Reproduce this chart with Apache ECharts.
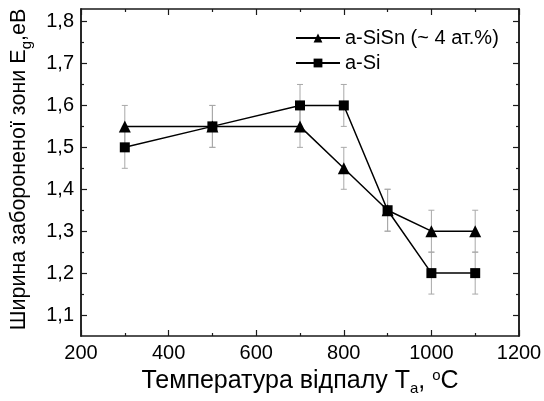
<!DOCTYPE html>
<html>
<head>
<meta charset="utf-8">
<script src="https://cdn.jsdelivr.net/npm/echarts@6/dist/echarts.min.js"></script>
<style>
  html, body { margin: 0; padding: 0; background: #fff; }
  #chart { width: 544px; height: 401px; }
</style>
</head>
<body>
<div id="chart"></div>
<script>
// annealing temperature, C
const temps = [300, 500, 700, 800, 900, 1000, 1100]
// band gap, eV
const sisnGap = [1.55, 1.55, 1.55, 1.45, 1.35, 1.30, 1.30]
const siGap = [1.50, 1.55, 1.60, 1.60, 1.35, 1.20, 1.20]
const gapErr = [0.05, 0.05, 0.05, 0.05, 0.05, 0.05, 0.05]

// y ticks (labelled) and the small ones in between
const yTicks = [1.1, 1.2, 1.3, 1.4, 1.5, 1.6, 1.7, 1.8]
const yMinorTicks = [1.15, 1.25, 1.35, 1.45, 1.55, 1.65, 1.75]

const seriesNames = ['a-SiSn (~ 4 ат.%)', 'a-Si']

const font = 'Liberation Sans, Arial, sans-serif'
const axisColor = '#1a1a1a'

function errData(vals) {
  return temps.map((t, i) => [t, vals[i] - gapErr[i], vals[i] + gapErr[i]])
}

function renderErr(params, api) {
  const x = api.value(0)
  const lo = api.coord([x, api.value(1)])
  const hi = api.coord([x, api.value(2)])
  const w = 3
  const style = { stroke: '#a8a8a8', lineWidth: 1 }
  return {
    type: 'group',
    children: [
      { type: 'line', shape: { x1: lo[0], y1: lo[1], x2: hi[0], y2: hi[1] }, style: style },
      { type: 'line', shape: { x1: lo[0] - w, y1: lo[1], x2: lo[0] + w, y2: lo[1] }, style: style },
      { type: 'line', shape: { x1: hi[0] - w, y1: hi[1], x2: hi[0] + w, y2: hi[1] }, style: style }
    ]
  }
}

const xBase = {
  type: 'value',
  min: 200,
  max: 1200,
  interval: 200,
  axisLine: { show: true, onZero: false, lineStyle: { color: axisColor, width: 1.5 } },
  axisTick: { show: true, inside: true, length: 6, lineStyle: { color: axisColor, width: 1.2 } },
  minorTick: { show: true, splitNumber: 2, length: 3, lineStyle: { color: axisColor, width: 1.2 } },
  splitLine: { show: false },
  minorSplitLine: { show: false }
}

function yAxisDef(position, ticks, len, withLabels) {
  return {
    type: 'value',
    position: position,
    min: 1.05,
    max: 1.83,
    axisLine: { show: true, onZero: false, lineStyle: { color: axisColor, width: 1.5 } },
    axisTick: { show: true, inside: true, length: len, customValues: ticks, lineStyle: { color: axisColor, width: 1.2 } },
    axisLabel: withLabels
      ? {
          show: true,
          margin: 7,
          fontFamily: font,
          fontSize: 20,
          color: '#000',
          customValues: ticks,
          formatter: v => v.toFixed(1).replace('.', ',')
        }
      : { show: false },
    splitLine: { show: false }
  }
}

const richName = {
  sub: { fontSize: 15, fontFamily: font, color: '#000', padding: [14, 0, 0, 0] },
  sup: { fontSize: 15, fontFamily: font, color: '#000', padding: [0, 0, 12, 0] }
}

const chart = echarts.init(document.getElementById('chart'), null, { renderer: 'canvas' })

const yMain = yAxisDef('left', yTicks, 6, true)
yMain.name = 'Ширина забороненої зони E{sub|g},еВ'
yMain.nameLocation = 'middle'
yMain.nameGap = 47
yMain.nameTextStyle = { fontFamily: font, fontSize: 21.5, color: '#000', rich: richName, padding: [0, 0, 0, 6] }

chart.setOption({
  animation: false,
  backgroundColor: '#fff',
  grid: { left: 81, right: 25, top: 9, bottom: 65, outerBoundsMode: 'none', containLabel: false },
  legend: {
    left: 290,
    top: 23,
    orient: 'vertical',
    itemWidth: 44,
    itemHeight: 11,
    itemGap: 5,
    data: seriesNames,
    textStyle: { fontFamily: font, fontSize: 20, color: '#000', lineHeight: 20 }
  },
  xAxis: [
    Object.assign({}, xBase, {
      position: 'bottom',
      name: 'Температура відпалу T{sub|a}, {sup|o}C',
      nameLocation: 'middle',
      nameGap: 30,
      nameTextStyle: { fontFamily: font, fontSize: 25, color: '#000', rich: richName },
      axisLabel: { show: true, margin: 7, fontFamily: font, fontSize: 20, color: '#000', formatter: v => String(v) }
    }),
    Object.assign({}, xBase, { position: 'top', axisLabel: { show: false } })
  ],
  yAxis: [
    yMain,
    yAxisDef('left', yMinorTicks, 3, false),
    yAxisDef('right', yTicks, 6, false),
    yAxisDef('right', yMinorTicks, 3, false)
  ],
  series: [
    {
      type: 'custom',
      name: 'err-sisn',
      renderItem: renderErr,
      encode: { x: 0, y: [1, 2] },
      data: errData(sisnGap),
      z: 1,
      silent: true
    },
    {
      type: 'custom',
      name: 'err-si',
      renderItem: renderErr,
      encode: { x: 0, y: [1, 2] },
      data: errData(siGap),
      z: 1,
      silent: true
    },
    {
      name: seriesNames[0],
      type: 'line',
      data: temps.map((t, i) => [t, sisnGap[i]]),
      symbol: 'triangle',
      symbolSize: 12,
      itemStyle: { color: '#000' },
      lineStyle: { color: '#000', width: 1.5 },
      z: 3
    },
    {
      name: seriesNames[1],
      type: 'line',
      data: temps.map((t, i) => [t, siGap[i]]),
      symbol: 'rect',
      symbolSize: 10,
      itemStyle: { color: '#000' },
      lineStyle: { color: '#000', width: 1.5 },
      z: 3
    }
  ]
})
</script>
</body>
</html>
